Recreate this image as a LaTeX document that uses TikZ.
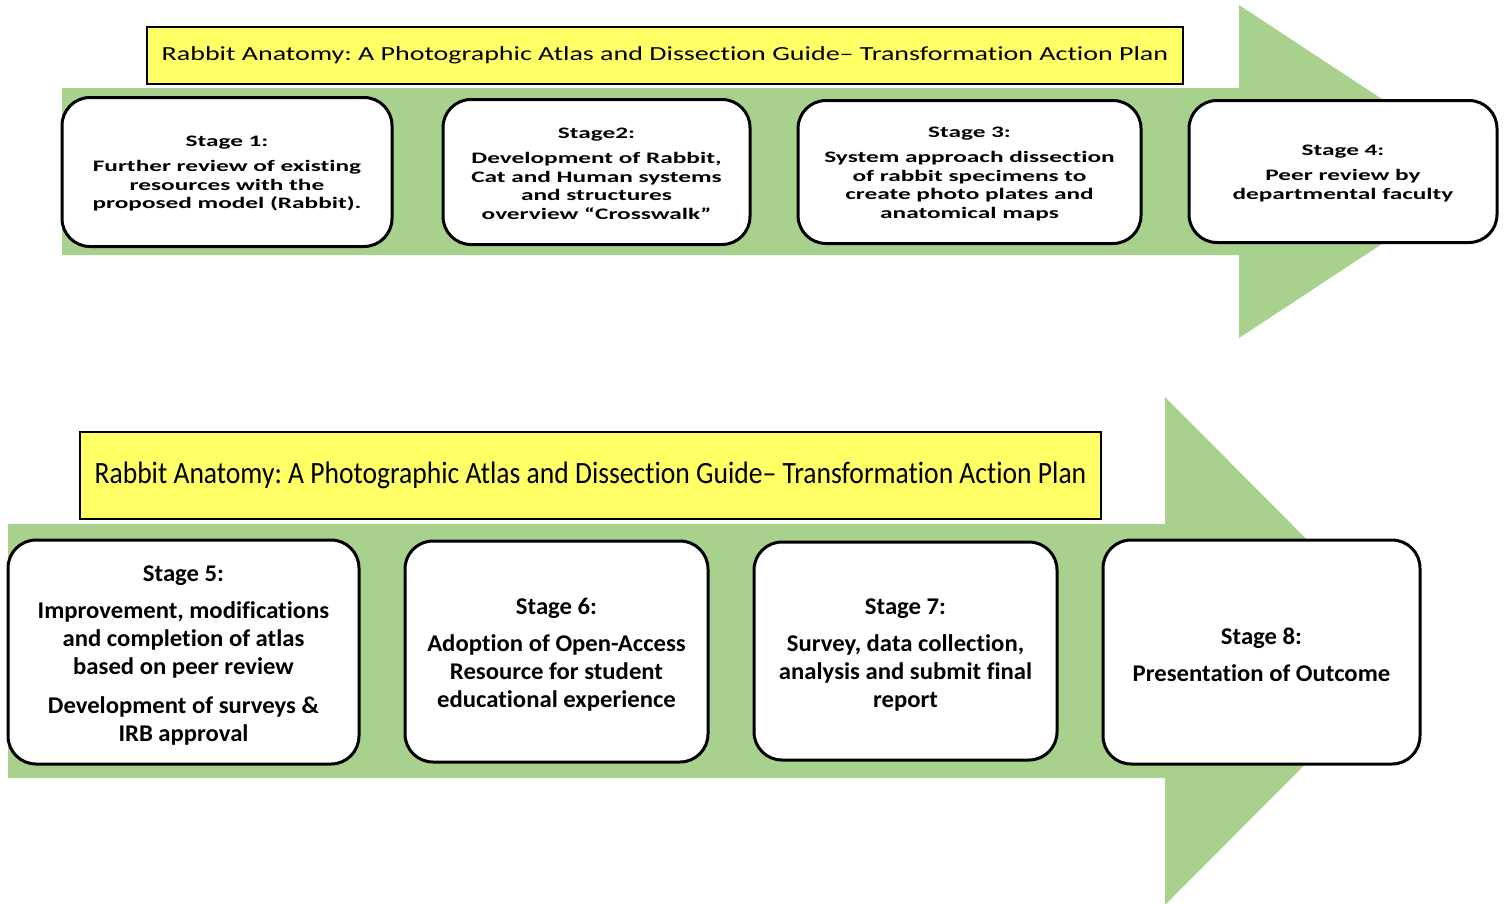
\documentclass[tikz,border=0pt]{standalone}
\usepackage{fontspec}
\setmainfont{Carlito}[Ligatures=NoCommon]
\newfontfamily\widefont[FakeStretch=1.58,Ligatures=NoCommon]{Carlito}
\newfontfamily\widetitle[FakeStretch=1.40,Ligatures=NoCommon]{Carlito}
\newfontfamily\narrowtitle[FakeStretch=0.89,Ligatures=NoCommon]{Carlito}
\newfontfamily\botfont[FakeStretch=1.03,Ligatures=NoCommon]{Carlito}
\definecolor{arrowgreen}{RGB}{169,209,142}
\definecolor{titleyellow}{RGB}{255,255,102}
\newcommand\topstrut{\rule{0pt}{14.5pt}}
\newcommand\botstrut{\rule{0pt}{23pt}}
\tikzset{
  stagebox/.style={draw=black, line width=3pt, fill=white, rounded corners=28pt, align=center, inner sep=0pt},
  topstage/.style={stagebox, font=\widefont\bfseries\fontsize{16}{18.5}\selectfont},
  botstage/.style={stagebox, font=\botfont\bfseries\fontsize{24}{28}\selectfont},
  titlebox/.style={draw=black, line width=2pt, fill=titleyellow, inner sep=0pt},
  arrowfill/.style={fill=arrowgreen, draw=none}
}
\frenchspacing
\begin{document}
\begin{tikzpicture}[x=1pt,y=-1pt]
\useasboundingbox (0,0) rectangle (1504,903);
\clip (0,0) rectangle (1504,903);
% arrows
\fill[arrowfill] (62,88) -- (1239,88) -- (1239,5) -- (1492,171.5) -- (1239,338) -- (1239,255) -- (62,255) -- cycle;
\fill[arrowfill] (8,524) -- (1165,524) -- (1165,397) -- (1418,651) -- (1165,905) -- (1165,778) -- (8,778) -- cycle;
% titles
\node[titlebox, minimum width=1036pt, minimum height=57pt] (t1) at (665,55.5)
  {\widetitle\fontsize{20}{22}\selectfont Rabbit Anatomy: A Photographic Atlas and Dissection Guide– Transformation Action Plan};
\node[titlebox, minimum width=1021pt, minimum height=87pt] (t2) at (590.5,475.5)
  {\narrowtitle\fontsize{31}{34}\selectfont Rabbit Anatomy: A Photographic Atlas and Dissection Guide– Transformation Action Plan};
% top stages
\node[topstage, minimum width=330pt, minimum height=149pt] (s1) at (227,172)
  {\topstrut Stage 1:\\[6.5pt] Further review of existing\\ resources with the\\ proposed model (Rabbit).};
\node[topstage, minimum width=307pt, minimum height=145pt] (s2) at (596.5,172)
  {\topstrut Stage2:\\[6.5pt] Development of Rabbit,\\ Cat and Human systems\\ and structures\\ overview “Crosswalk”};
\node[topstage, minimum width=343pt, minimum height=143pt] (s3) at (969.5,172)
  {\topstrut Stage 3:\\[6.5pt] System approach dissection\\ of rabbit specimens to\\ create photo plates and\\ anatomical maps};
\node[topstage, minimum width=308pt, minimum height=142pt] (s4) at (1343,171.5)
  {\topstrut Stage 4:\\[6.5pt] Peer review by\\ departmental faculty};
% bottom stages
\node[botstage, minimum width=351pt, minimum height=224pt] (s5) at (183.5,652)
  {\botstrut Stage 5:\\[9pt] Improvement, modifications\\ and completion of atlas\\ based on peer review\\[11pt] Development of surveys \&\\ IRB approval};
\node[botstage, minimum width=303pt, minimum height=221pt] (s6) at (556.5,651.5)
  {\botstrut Stage 6:\\[9pt] Adoption of Open-Access\\ Resource for student\\ educational experience};
\node[botstage, minimum width=303pt, minimum height=218pt] (s7) at (905.5,651)
  {\botstrut Stage 7:\\[9pt] Survey, data collection,\\ analysis and submit final\\ report};
\node[botstage, minimum width=317pt, minimum height=224pt] (s8) at (1261.5,652)
  {\botstrut Stage 8:\\[9pt] Presentation of Outcome};
\end{tikzpicture}
\end{document}
